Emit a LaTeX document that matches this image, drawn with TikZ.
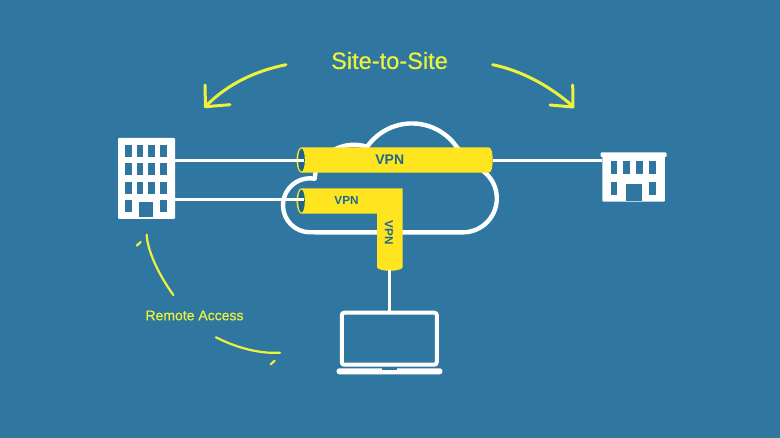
\documentclass[tikz,border=0pt]{standalone}
\usepackage{fontspec}
\setmainfont{Liberation Sans}
\newfontfamily\medfont[FakeBold=0.35]{Liberation Sans}
\definecolor{bgblue}{HTML}{2F77A1}
\definecolor{tube}{HTML}{FFE520}
\definecolor{note}{HTML}{EDF23A}
\definecolor{vpntext}{HTML}{1E6A8D}
\definecolor{holeblue}{HTML}{1F6488}
\tikzset{
  x=1pt, y=-1pt,
  wire/.style={draw=white, line width=3pt},
  cloudline/.style={draw=white, line width=4.4pt, line join=round},
  sketch/.style={draw=note, line width=2.2pt, line cap=round},
  sweep/.style={draw=note, line width=3pt, line cap=round, line join=round},
  pane/.style={fill=bgblue},
  block/.style={fill=white, rectangle, rounded corners=1pt, inner sep=0pt, outer sep=0pt},
  tubefill/.style={fill=tube},
  tubelabel/.style={text=vpntext, font=\bfseries\fontsize{#1}{#1}\selectfont, inner sep=0pt},
  notelabel/.style={text=note, font=\medfont\fontsize{#1}{#1}\selectfont, inner sep=0pt},
}
\begin{document}
\begin{tikzpicture}
\useasboundingbox (0,0) rectangle (780,438);
\fill[bgblue] (0,0) rectangle (780,438);

% Cloud outline, clockwise from the lower left
\draw[cloudline] (310,232.3) arc[start angle=90,end angle=280,radius=27]
  -- (316,169) arc[start angle=205,end angle=288,radius=42]
  -- (367,147) arc[start angle=214.6,end angle=326,radius=54.5]
  -- (486,173.5) arc[start angle=-47,end angle=90,radius=34] -- cycle;

% Head-office block
\node[block, minimum width=57pt, minimum height=81pt] (office) at (146.5,178.5) {};
\foreach \wx in {125.3,136.7,148.3,160}
  \foreach \wy in {144.7,163.3,182}
    \fill[pane] (\wx,\wy) rectangle ++(6.7,12);
\foreach \wx in {125.3,160}
  \fill[pane] (\wx,200.3) rectangle ++(6.7,12);
\fill[pane] (139,202.3) rectangle (153.3,217.3);

% Branch-office block
\node[block, minimum width=62.7pt, minimum height=47pt] (branch) at (633.6,178.2) {};
\fill[white, rounded corners=1pt] (600.5,152.3) rectangle (666.5,157);
\foreach \wx in {610.7,623.3,636,649.3}
  \fill[pane] (\wx,161) rectangle ++(6.7,13.3);
\foreach \wx in {610.7,649.3}
  \fill[pane] (\wx,181.7) rectangle ++(6.7,13.3);
\fill[pane] (625.7,184) rectangle (641.7,201);

% Laptop
\node[draw=white, line width=4pt, rounded corners=2.5pt, minimum width=95pt, minimum height=52pt, inner sep=0pt] (laptop) at (389.3,338.7) {};
\fill[white, rounded corners=2.5pt] (336.7,368.3) rectangle (442.3,374.3);
\fill[pane] (382,368.3) rectangle (397,370);

% Upper tunnel
\fill[tubefill] (301.5,147.3) -- (488.7,147.3)
  .. controls (491.5,147.3) and (492.7,153) .. (492.7,160)
  .. controls (492.7,167) and (491.5,172.7) .. (488.7,172.7) -- (301.5,172.7) -- cycle;
\fill[tubefill] (301.5,160) ellipse[x radius=5, y radius=12.7];
\fill[holeblue] (301.5,160) ellipse[x radius=3.3, y radius=11.3];

% Lower tunnel with its bend down to the laptop
\fill[tubefill] (301.5,188.3) -- (402.7,188.3) -- (402.7,267) -- (377,267) -- (377,213.7) -- (301.5,213.7) -- cycle;
\fill[tubefill] (389.85,267) ellipse[x radius=12.85, y radius=3.8];
\fill[tubefill] (301.5,201) ellipse[x radius=5, y radius=12.7];
\fill[holeblue] (301.5,201) ellipse[x radius=3.3, y radius=11.3];

% Tunnel inlets and outlets
\coordinate (upperin) at (303.5,160.3);
\coordinate (upperout) at (492.7,160.3);
\coordinate (lowerin) at (303.5,200);
\coordinate (lowerout) at (389,270.5);

% Links
\draw[wire] (office.east |- upperin) -- (upperin);
\draw[wire] (office.east |- lowerin) -- (lowerin);
\draw[wire] (upperout) -- (branch.west |- upperout);
\draw[wire] (lowerout) -- (lowerout |- laptop.north);

% Tunnel labels
\node[tubelabel=14] (vpnupper) at (389.8,160) {VPN};
\node[tubelabel=11.7] (vpnlower) at (346.5,200) {VPN};
\node[tubelabel=11.7, rotate=-90] (vpndown) at (389,233) {VPN};

% Annotations
\node[notelabel=23.6] (sitetosite) at (389.5,60.5) {Site-to-Site};
\node[notelabel=14] (remote) at (194.5,315.5) {Remote Access};

\coordinate (sweepLa) at (286,64.7);
\coordinate (sweepLb) at (207,105);
\coordinate (sweepRa) at (492.7,64.7);
\coordinate (sweepRb) at (572.5,106);
\draw[sweep] (sweepLa) .. controls (255,71) and (228,84) .. (sweepLb);
\draw[sweep] (205,85) -- (205.5,106.7) -- (230,104.7);
\draw[sweep] (sweepRa) .. controls (523,71) and (551,87) .. (sweepRb);
\draw[sweep] (572.7,85) -- (573,107) -- (550,105);

\draw[sketch] (146.7,234.7) .. controls (147.5,250) and (157,272) .. (173.3,295);
\draw[sketch] (136.7,245.7) -- (140.7,242);
\draw[sketch] (216,337.3) .. controls (235,347) and (258,354) .. (280,352.7);
\draw[sketch] (270.7,364.3) -- (274.7,360.7);
\end{tikzpicture}
\end{document}
